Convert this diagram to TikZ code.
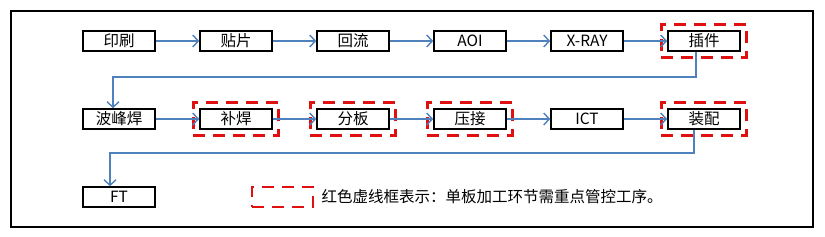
\documentclass[tikz,border=0pt]{standalone}
\usepackage{fontspec}
\setmainfont{Noto Sans CJK SC}
\usetikzlibrary{arrows.meta,positioning,fit}
\definecolor{Flow}{HTML}{4F81BD}
\definecolor{Key}{HTML}{E01010}
\tikzset{
 box/.style={draw=black,line width=1.6pt,minimum width=72pt,minimum height=20pt,inner sep=0pt,font=\fontsize{15.5}{17}\selectfont},
 keyframe/.style={draw=Key,line width=2.8pt,dash pattern=on 12pt off 8pt,inner sep=6pt},
 arr/.style={-{Straight Barb[length=5.5pt,width=12pt]},line width=1.4pt,draw=Flow}
}
\begin{document}
\begin{tikzpicture}[x=1pt,y=-1pt,node distance=43.4pt]
\useasboundingbox (0,0) rectangle (825,236);
\draw[line width=1.8pt] (11,11) rectangle (813,227);
% first row
\node[box] (a) at (119,41) {印刷};
\node[box,right=of a] (b) {贴片};
\node[box,right=of b] (c) {回流};
\node[box,right=of c] (d) {AOI};
\node[box,right=of d] (e) {X-RAY};
\node[box,right=of e] (f) {插件};
% second row
\node[box] (g) at (119,119) {波峰焊};
\node[box,right=of g] (h) {补焊};
\node[box,right=of h] (i) {分板};
\node[box,right=of i] (j) {压接};
\node[box,right=of j] (k) {ICT};
\node[box,right=of k] (l) {装配};
% last row
\node[box] (m) at (119,197) {FT};
\foreach \n in {f,h,i,j,l} \node[keyframe,fit=(\n)] (key\n) {};
\node[keyframe,minimum width=61pt,minimum height=20pt,inner sep=0pt] (legend) at (282.5,197) {};
\node[anchor=west,inner sep=0pt,font=\fontsize{15.5}{17}\selectfont] (note) at ([xshift=7pt]legend.east) {红色虚线框表示：单板加工环节需重点管控工序。};
\foreach \x/\y in {a/b,b/c,c/d,d/e,e/f,g/h,h/i,i/j,j/k,k/l} \draw[arr] (\x)--(\y);
\draw[arr] ([xshift=-8pt]f.south) -- ++(0,25) -| ([xshift=-6pt]g.north);
\draw[arr] ([xshift=-10pt]l.south) -- ++(0,23) -| ([xshift=-9pt]m.north);
\end{tikzpicture}
\end{document}
